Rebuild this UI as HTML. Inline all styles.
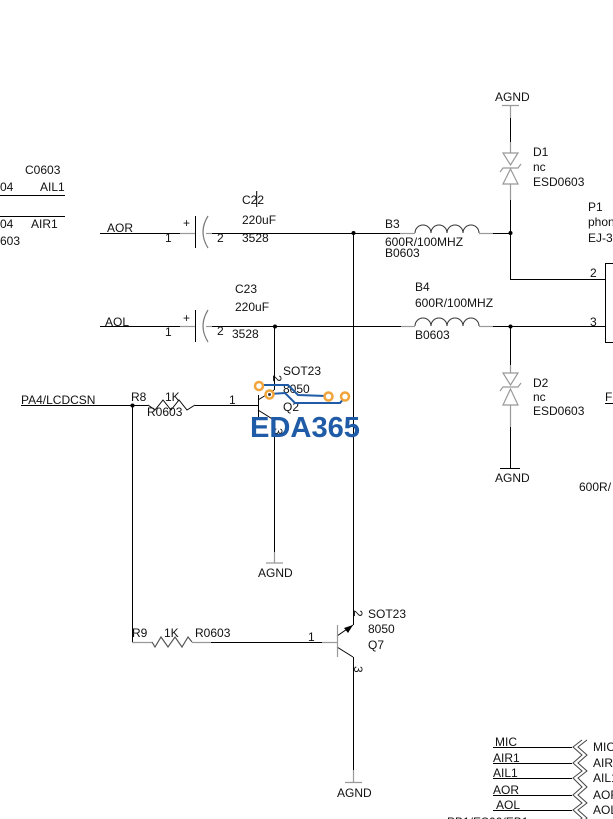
<!DOCTYPE html>
<html><head><meta charset="utf-8"><style>
html,body{margin:0;padding:0;background:#fff;}
svg{display:block;}
text{font-family:"Liberation Sans",sans-serif;font-size:12px;fill:#111;}
</style></head><body>
<svg width="613" height="819" viewBox="0 0 613 819" xmlns="http://www.w3.org/2000/svg">
<g stroke="#000" stroke-width="1" fill="none" shape-rendering="crispEdges">
<!-- top-left -->
<line x1="0" y1="195.5" x2="65" y2="195.5"/>
<line x1="0" y1="216.5" x2="65" y2="216.5"/>
<!-- AOR row -->
<line x1="100" y1="233.5" x2="180" y2="233.5"/>
<line x1="212" y1="233.5" x2="400" y2="233.5"/>
<line x1="493" y1="233.5" x2="511" y2="233.5"/>
<!-- AOL row -->
<line x1="100" y1="326.5" x2="180" y2="326.5"/>
<line x1="212" y1="326.5" x2="401" y2="326.5"/>
<line x1="493" y1="326.5" x2="605" y2="326.5"/>
<!-- cap plates -->
<line x1="195.5" y1="216" x2="195.5" y2="248"/>
<line x1="195.5" y1="310" x2="195.5" y2="342"/>
<!-- verticals -->
<line x1="353.5" y1="233" x2="353.5" y2="625"/>
<line x1="274.5" y1="326" x2="274.5" y2="390"/>
<line x1="274.5" y1="420" x2="274.5" y2="552"/>
<line x1="132.5" y1="405" x2="132.5" y2="642"/>
<line x1="353.5" y1="657" x2="353.5" y2="770"/>
<!-- D1 net -->
<line x1="510.5" y1="118" x2="510.5" y2="142"/>
<line x1="510.5" y1="200" x2="510.5" y2="279"/>
<line x1="510" y1="279.5" x2="605" y2="279.5"/>
<!-- D2 net -->
<line x1="510.5" y1="326" x2="510.5" y2="365"/>
<line x1="510.5" y1="427" x2="510.5" y2="468"/>
<line x1="500" y1="468.5" x2="520" y2="468.5"/>
<!-- P1 box -->
<line x1="605.5" y1="263" x2="605.5" y2="342"/>
<line x1="605" y1="263.5" x2="613" y2="263.5"/>
<line x1="605" y1="342.5" x2="613" y2="342.5"/>
<!-- R8 row -->
<line x1="21" y1="405.5" x2="148" y2="405.5"/>
<line x1="195" y1="405.5" x2="258" y2="405.5"/>
<line x1="258.5" y1="395" x2="258.5" y2="417"/>
<!-- R9 row -->
<line x1="211" y1="642.5" x2="322" y2="642.5"/>
<line x1="274" y1="562.5" x2="274" y2="562.5"/>
<!-- FI underline -->
<line x1="605" y1="403.5" x2="613" y2="403.5"/>
<!-- net labels bottom right -->
<line x1="493" y1="747.5" x2="572" y2="747.5"/>
<line x1="493" y1="763.5" x2="572" y2="763.5"/>
<line x1="493" y1="778.5" x2="572" y2="778.5"/>
<line x1="493" y1="795.5" x2="572" y2="795.5"/>
<line x1="493" y1="810.5" x2="572" y2="810.5"/>
</g>
<g stroke="#000" stroke-width="1" fill="none">
<!-- Q2 diagonals -->
<line x1="258" y1="400" x2="274" y2="390"/>
<line x1="258" y1="410" x2="274" y2="420"/>
<!-- Q7 -->
<line x1="337" y1="636" x2="353" y2="625"/>
<line x1="337" y1="647" x2="353" y2="657"/>
<!-- R8 zigzag -->
<polyline points="148,405 155,410 163,400 171,410 179,400 187,410 195,405"/>
<!-- inductors -->
<path d="M415,233 a8,8 0 0 1 16,0 a8,8 0 0 1 16,0 a8,8 0 0 1 16,0 a8,8 0 0 1 16,0" stroke="#333"/>
<path d="M415,326 a8,8 0 0 1 16,0 a8,8 0 0 1 16,0 a8,8 0 0 1 16,0 a8,8 0 0 1 16,0" stroke="#333"/>
<!-- chevrons -->
<polyline stroke="#444" points="582,740 573,747 582,755 573,763 582,771 573,778 582,787 573,795 582,803 573,810 582,818 573,826"/>
<polyline stroke="#444" points="587,740 578,747 587,755 578,763 587,771 578,778 587,787 578,795 587,803 578,810 587,818 578,826"/>
</g>
<polygon points="353,625 344,628 348,633" fill="#000"/>
<g stroke="#999" stroke-width="1.2" fill="none">
<line x1="180" y1="233.5" x2="195" y2="233.5"/>
<line x1="206" y1="233.5" x2="212" y2="233.5"/>
<line x1="180" y1="326.5" x2="195" y2="326.5"/>
<line x1="206" y1="326.5" x2="212" y2="326.5"/>
<path d="M208,216 Q198,232 208,248" stroke="#777"/>
<path d="M208,310 Q198,326 208,342" stroke="#777"/>
<line x1="400" y1="233.5" x2="415" y2="233.5"/>
<line x1="479" y1="233.5" x2="493" y2="233.5"/>
<line x1="401" y1="326.5" x2="415" y2="326.5"/>
<line x1="479" y1="326.5" x2="493" y2="326.5"/>
<!-- D1 -->
<line x1="502" y1="105.5" x2="519" y2="105.5"/>
<line x1="510.5" y1="105" x2="510.5" y2="118"/>
<line x1="510.5" y1="142" x2="510.5" y2="153"/>
<polygon points="503,153 518,153 510.5,165"/>
<path d="M500,172 L503,168 L518,168 L521,164"/>
<polygon points="510.5,169 503,184 518,184"/>
<line x1="510.5" y1="184" x2="510.5" y2="200"/>
<!-- D2 -->
<line x1="510.5" y1="365" x2="510.5" y2="373"/>
<polygon points="503,373 518,373 510.5,385"/>
<path d="M500,391 L503,387 L518,387 L521,383"/>
<polygon points="510.5,389 503,405 518,405"/>
<line x1="510.5" y1="405" x2="510.5" y2="427"/>
<!-- Q2 AGND -->
<line x1="274.5" y1="552" x2="274.5" y2="563"/>
<line x1="266" y1="563" x2="283" y2="563"/>
<!-- R9 -->
<line x1="132" y1="642.5" x2="152" y2="642.5"/>
<polyline points="152,642 155,647 161,637 168,647 175,637 182,647 188,637 192,642" stroke="#555"/>
<line x1="192" y1="642.5" x2="211" y2="642.5"/>
<line x1="322" y1="642.5" x2="337" y2="642.5"/>
<line x1="337.5" y1="625" x2="337.5" y2="657"/>
<!-- Q7 AGND -->
<line x1="353.5" y1="770" x2="353.5" y2="782"/>
<line x1="345" y1="782.5" x2="362" y2="782.5"/>
</g>
<!-- junction dots -->
<g fill="#000">
<circle cx="353.5" cy="233" r="2"/>
<circle cx="275" cy="326.5" r="2"/>
<circle cx="510.5" cy="233" r="2"/>
<circle cx="510.5" cy="326.5" r="2"/>
<circle cx="132.5" cy="405.5" r="2"/>
</g>
<line x1="256.7" y1="191" x2="256.7" y2="207" stroke="#000" stroke-width="1"/>
<!-- texts -->
<text x="25" y="174">C0603</text>
<text x="0" y="191">04</text>
<text x="40" y="191">AIL1</text>
<text x="0" y="228">04</text>
<text x="31" y="228">AIR1</text>
<text x="0" y="245">603</text>

<text x="107" y="232">AOR</text>
<text x="105" y="326">AOL</text>
<text x="165" y="242">1</text>
<text x="183" y="227">+</text>
<text x="217" y="242">2</text>
<text x="242" y="204">C22</text>
<text x="242" y="224">220uF</text>
<text x="242" y="242">3528</text>

<text x="165" y="336">1</text>
<text x="183" y="322">+</text>
<text x="217" y="335">2</text>
<text x="235" y="293">C23</text>
<text x="235" y="311">220uF</text>
<text x="232" y="338">3528</text>

<text x="385" y="228">B3</text>
<text x="385" y="246">600R/100MHZ</text>
<text x="385" y="257">B0603</text>
<text x="415" y="291">B4</text>
<text x="415" y="307">600R/100MHZ</text>
<text x="415" y="339">B0603</text>

<text x="495" y="101">AGND</text>
<text x="533" y="156">D1</text>
<text x="533" y="171">nc</text>
<text x="533" y="186">ESD0603</text>
<text x="588" y="211">P1</text>
<text x="588" y="226">phone</text>
<text x="588" y="242">EJ-3</text>
<text x="590" y="277">2</text>
<text x="590" y="326">3</text>

<text x="533" y="387">D2</text>
<text x="533" y="401">nc</text>
<text x="533" y="415">ESD0603</text>
<text x="495" y="482">AGND</text>
<text x="605" y="401">FI</text>
<text x="579" y="491">600R/</text>

<text x="21" y="404">PA4/LCDCSN</text>
<text x="131" y="401">R8</text>
<text x="165" y="401">1K</text>
<text x="147" y="416">R0603</text>
<text x="229" y="404">1</text>
<text x="283" y="375">SOT23</text>
<text x="283" y="393">8050</text>
<text x="283" y="411">Q2</text>
<text x="0" y="0" transform="translate(273,375) rotate(90)" font-size="11">2</text>
<text x="0" y="0" transform="translate(274,428) rotate(90)" font-size="11">3</text>
<text x="258" y="577">AGND</text>

<text x="132" y="637">R9</text>
<text x="164" y="637">1K</text>
<text x="195" y="637">R0603</text>
<text x="308" y="641">1</text>
<text x="0" y="0" transform="translate(354,610) rotate(90)" font-size="11">2</text>
<text x="0" y="0" transform="translate(354,666) rotate(90)" font-size="11">3</text>
<text x="368" y="618">SOT23</text>
<text x="368" y="633">8050</text>
<text x="368" y="649">Q7</text>
<text x="337" y="797">AGND</text>

<text x="495" y="746">MIC</text>
<text x="493" y="762">AIR1</text>
<text x="493" y="777">AIL1</text>
<text x="493" y="794">AOR</text>
<text x="496" y="809">AOL</text>
<text x="447" y="826">PB1/ES00/EB1</text>
<text x="593" y="751">MIC</text>
<text x="593" y="767">AIR1</text>
<text x="593" y="782">AIL1</text>
<text x="593" y="799">AOR</text>
<text x="593" y="814">AOL</text>

<!-- watermark -->
<g fill="none" stroke="#1f5ba6" stroke-width="2">
<polyline points="259,387 263,385 288,385 298,395 326,396"/>
<polyline points="269,394 285,393 295,403 340,403 344,398"/>
</g>
<g stroke="#f0a43a" stroke-width="2.5" fill="#fff">
<circle cx="259" cy="386" r="4"/>
<circle cx="269.5" cy="394.5" r="4"/>
<circle cx="328.5" cy="396.5" r="4"/>
<circle cx="345" cy="396.5" r="4"/>
</g>
<circle cx="269.5" cy="394.5" r="1.5" fill="#333"/>
<text x="250" y="437" style="font-size:29px;font-weight:bold;fill:#1f5ba6" textLength="110" lengthAdjust="spacingAndGlyphs">EDA365</text>
</svg>
</body></html>
